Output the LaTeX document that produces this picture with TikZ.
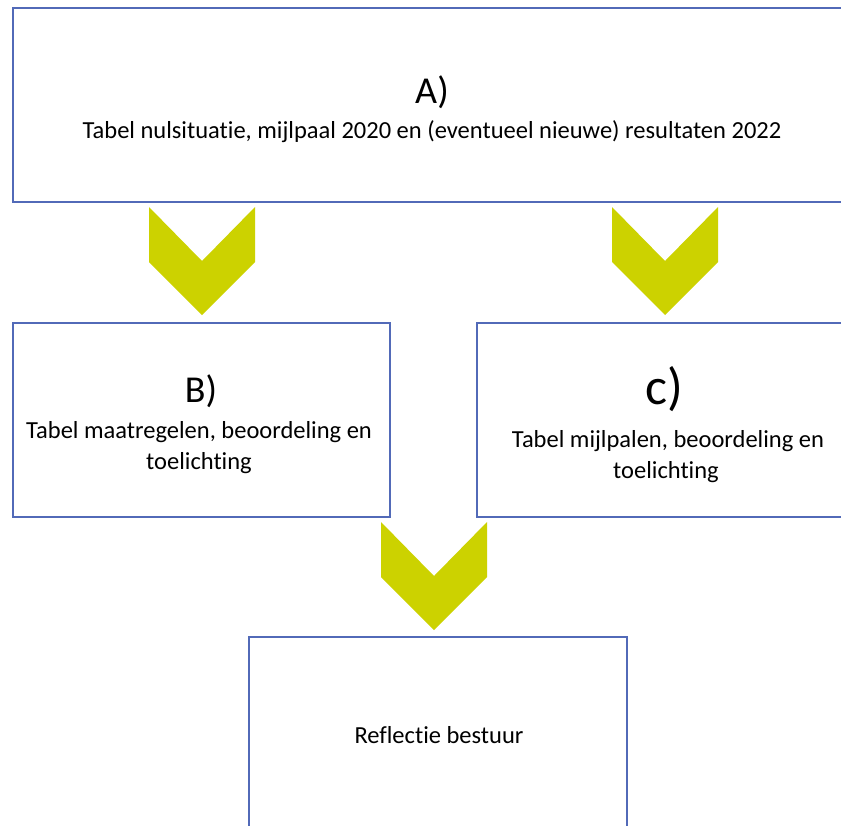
\documentclass[tikz,border=0pt]{standalone}
\usepackage{fontspec}
\setmainfont{Carlito}[Ligatures=NoCommon]
\definecolor{boxblue}{RGB}{82,106,184}
\definecolor{chevgreen}{RGB}{204,210,0}
\tikzset{
  panel/.style={draw=boxblue, line width=1.3pt, fill=white, rectangle, inner sep=0pt},
  chev/.style={fill=chevgreen, draw=none},
  big/.style={anchor=base, font=\fontsize{38}{44}\selectfont, inner sep=0pt},
  bigc/.style={anchor=base, font=\fontsize{52}{58}\selectfont, inner sep=0pt},
  body/.style={anchor=base, font=\fontsize{24.5}{29}\selectfont, inner sep=0pt},
  pics/chevron/.style={code={
    \fill[chev] (-53,0) -- (0,54) -- (53,0) -- (53,55) -- (0,108) -- (-53,55) -- cycle;
  }}
}
\begin{document}
\begin{tikzpicture}[x=1pt,y=-1pt]
\clip (0,0) rectangle (841,825);
\fill[white] (0,0) rectangle (841,825);
% boxes
\node[panel, minimum width=838pt, minimum height=194pt] (boxA) at (432,105) {};
\node[panel, minimum width=377pt, minimum height=194pt] (boxB) at (201.5,420) {};
\node[panel, minimum width=380pt, minimum height=194pt] (boxC) at (667,420) {};
\node[panel, minimum width=378pt, minimum height=260pt] (boxD) at (438,767) {};
% chevrons
\pic at (202,207) {chevron};
\pic at (665,207) {chevron};
\pic at (434,522) {chevron};
% texts
\node[big] (tA) at (432,103) {A)};
\node[body] (lA) at (432,138) {Tabel nulsituatie, mijlpaal 2020 en (eventueel nieuwe) resultaten 2022};
\node[big] (tB) at (201,402) {B)};
\node[body] (lB1) at (199,438) {Tabel maatregelen, beoordeling en};
\node[body] (lB2) at (199,469) {toelichting};
\node[bigc] (tC) at (664,404) {c)};
\node[body] (lC1) at (668,447) {Tabel mijlpalen, beoordeling en};
\node[body] (lC2) at (666,478) {toelichting};
\node[body] (lD) at (439,743) {Reflectie bestuur};
\end{tikzpicture}
\end{document}
